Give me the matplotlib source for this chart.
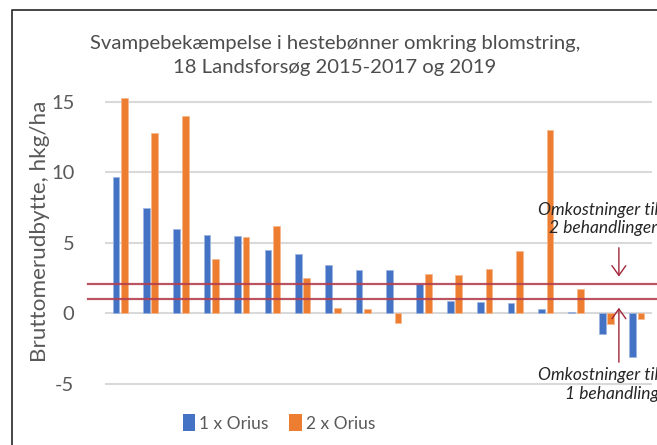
import matplotlib
matplotlib.use("Agg")
import matplotlib.pyplot as plt
import numpy as np
from matplotlib.transforms import blended_transform_factory
from matplotlib.lines import Line2D
from matplotlib.patches import Patch

title = "Svampebekæmpelse i hestebønner omkring blomstring,\n18 Landsforsøg 2015-2017 og 2019"
ylabel = "Bruttomerudbytte, hkg/ha"
series_names = ["1 x Orius", "2 x Orius"]
orius1 = [9.7, 7.5, 5.95, 5.58, 5.5, 4.5, 4.2, 3.4, 3.1, 3.1, 2.08, 0.87, 0.78, 0.7, 0.3, 0.08, -1.47, -3.08]
orius2 = [15.25, 12.77, 14.03, 3.88, 5.42, 6.2, 2.48, 0.38, 0.3, -0.68, 2.79, 2.72, 3.12, 4.42, 13.0, 1.7, -0.78, -0.38]
cost_lines = [2.1, 1.0]
yticks = [-5, 0, 5, 10, 15]
ann_top = ["Omkostninger til", "2 behandlinger"]
ann_bot = ["Omkostninger til", "1 behandling"]

W, H = 657, 445
fig = plt.figure(figsize=(W / 100, H / 100), dpi=100)
fig.patch.set_facecolor("white")

# axes placement in pixels
ax_left, ax_right = 105, 652
ylim = (-5.3, 15.6)
zero_px, per_unit = 313.3, 14.09
top_px = zero_px - per_unit * ylim[1]
bot_px = zero_px - per_unit * ylim[0]
ax = fig.add_axes([ax_left / W, 1 - bot_px / H, (ax_right - ax_left) / W, (bot_px - top_px) / H])

blue = "#4472C4"
orange = "#ED7D31"
x = np.arange(len(orius1))
bw = 0.22
off = 0.14
ax.bar(x - off, orius1, width=bw, color=blue, edgecolor="#9DB5E0", linewidth=0.5, zorder=3)
ax.bar(x + off, orius2, width=bw, color=orange, edgecolor="#F6B88E", linewidth=0.5, zorder=3)

ax.set_xlim(-0.5, len(x) - 0.5)
ax.set_ylim(*ylim)
ax.set_yticks(yticks)
ax.set_yticklabels([str(t) for t in yticks], fontfamily="Lato", fontsize=14.5, color="#595959")
ax.set_xticks([])
ax.tick_params(axis="y", length=0, pad=22)
for s in ax.spines.values():
    s.set_visible(False)
for t in yticks:
    ax.axhline(t, color="#D9D9D9", lw=1.5, zorder=1)

# cost lines extending beyond the axes to the left
tr = blended_transform_factory(ax.transAxes, ax.transData)
x0 = (88 - ax_left) / (ax_right - ax_left)
x1 = (W - ax_left) / (ax_right - ax_left) + 0.02
for c in cost_lines:
    ax.plot([x0, x1], [c, c], transform=tr, color="#B5404F", lw=1.6, alpha=0.9, clip_on=False, zorder=4)

# arrows
arrow_x = 16.41
arr_col = "#A32639"
ax.annotate("", xy=(arrow_x, 2.41), xytext=(arrow_x, 4.85),
            arrowprops=dict(arrowstyle="->,head_length=0.7,head_width=0.5", color=arr_col, lw=1.0), zorder=5)
ax.annotate("", xy=(arrow_x, 0.59), xytext=(arrow_x, -3.67),
            arrowprops=dict(arrowstyle="->,head_length=0.7,head_width=0.5", color=arr_col, lw=1.0),
            annotation_clip=False, zorder=5)

def figtext_px(px, py, s, **kw):
    fig.text(px / W, 1 - py / H, s, **kw)

tkw = dict(fontfamily="Lato", fontstyle="italic", fontsize=12.5, color="#262626", va="center", ha="left")
figtext_px(538, 210, ann_top[0], **tkw)
figtext_px(549, 228, ann_top[1], **tkw)
figtext_px(538, 375, ann_bot[0], **tkw)
figtext_px(565, 394, ann_bot[1], **tkw)

# title
fig.text(335 / W, 1 - 56 / H, title, ha="center", va="center", fontfamily="Lato",
         fontsize=14.6, color="#4D4D4D", linespacing=1.5)

# y label
fig.text(40 / W, 1 - 231 / H, ylabel, rotation=90, ha="center", va="center",
         fontfamily="Lato", fontsize=16.2, color="#595959")

# legend
handles = [Patch(facecolor=blue), Patch(facecolor=orange)]
fig.legend(handles, series_names, loc="center", bbox_to_anchor=(279 / W, 1 - 423 / H), ncol=2,
           frameon=False, prop=dict(family="Lato", size=12.5), labelcolor="#595959",
           handlelength=0.7, handleheight=1.1, handletextpad=0.25, columnspacing=1.2,
           borderpad=0.2)

# frame lines (top and left)
fig.add_artist(Line2D([12 / W, 12 / W, 1.0], [0.0, 1 - 10 / H, 1 - 10 / H],
                      transform=fig.transFigure, color="#262626", lw=1.2))

fig.savefig("out.png", dpi=100)
